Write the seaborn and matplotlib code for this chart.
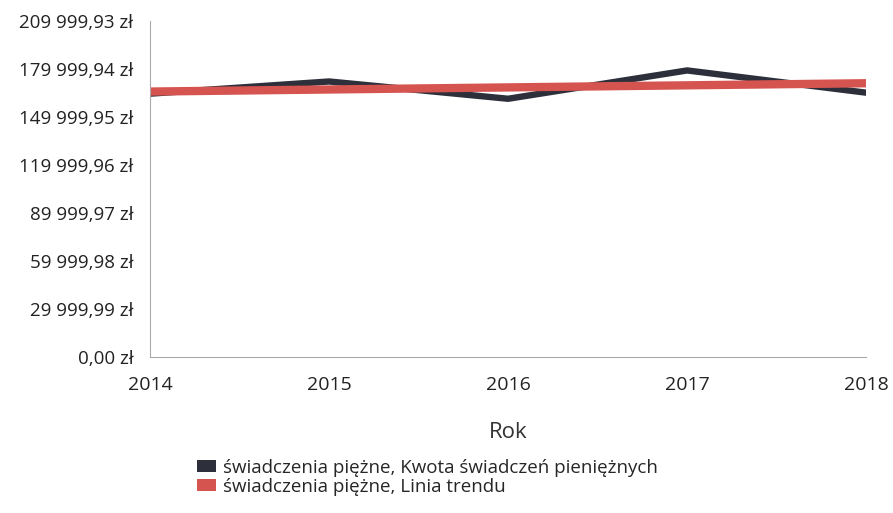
import numpy as np
import pandas as pd
import matplotlib
matplotlib.use("Agg")
import matplotlib.pyplot as plt
import seaborn as sns
from matplotlib.patches import Patch

# Data
years = [2014, 2015, 2016, 2017, 2018]
kwota = [164300, 171900, 161100, 178800, 164900]
trend = [165600, 166900, 168200, 169500, 170800]
y_ticks = [0.00, 29999.99, 59999.98, 89999.97, 119999.96, 149999.95, 179999.94, 209999.93]

series_names = ["świadczenia piężne, Kwota świadczeń pieniężnych",
                "świadczenia piężne, Linia trendu"]
colors = ["#2d2f3a", "#d65450"]

df = pd.DataFrame({
    "Rok": years * 2,
    "Wartość": kwota + trend,
    "Seria": [series_names[0]] * len(years) + [series_names[1]] * len(years),
})


def zl(v):
    s = f"{v:,.2f}".replace(",", " ").replace(".", ",")
    return s + " zł"


sns.set_style("white")
plt.rcParams["font.family"] = ["Open Sans", "DejaVu Sans"]

fig = plt.figure(figsize=(8.93, 5.13), dpi=100)
ax = fig.add_axes([0.168, 0.305, 0.802, 0.655])

sns.lineplot(data=df[df["Seria"] == series_names[0]], x="Rok", y="Wartość",
             color=colors[0], linewidth=4.6, ax=ax, legend=False)
sns.lineplot(data=df[df["Seria"] == series_names[1]], x="Rok", y="Wartość",
             color=colors[1], linewidth=6.0, ax=ax, legend=False)

ax.set_xlim(2014, 2018)
ax.set_ylim(0, 209999.93)
ax.set_xticks(years)
ax.set_xticklabels([str(y) for y in years], fontsize=14, color="#222222")
ax.set_yticks(y_ticks)
ax.set_yticklabels([zl(v) for v in y_ticks], fontsize=13.5, color="#222222")
ax.tick_params(axis="x", pad=14, length=0)
ax.tick_params(axis="y", pad=12, length=0)
ax.set_xlabel("Rok", fontsize=16, color="#333333", labelpad=20)
ax.set_ylabel("")

for s in ["top", "right"]:
    ax.spines[s].set_visible(False)
for s in ["left", "bottom"]:
    ax.spines[s].set_color("#aaaaaa")
    ax.spines[s].set_linewidth(0.8)

handles = [Patch(facecolor=c, edgecolor="none") for c in colors]
fig.legend(handles, series_names, loc="upper left", bbox_to_anchor=(0.212, 0.12),
           frameon=False, fontsize=13.5, handlelength=1.0, handleheight=0.6,
           handletextpad=0.4, labelspacing=0.05, borderaxespad=0)

fig.savefig("out.png", dpi=100, facecolor="white")
